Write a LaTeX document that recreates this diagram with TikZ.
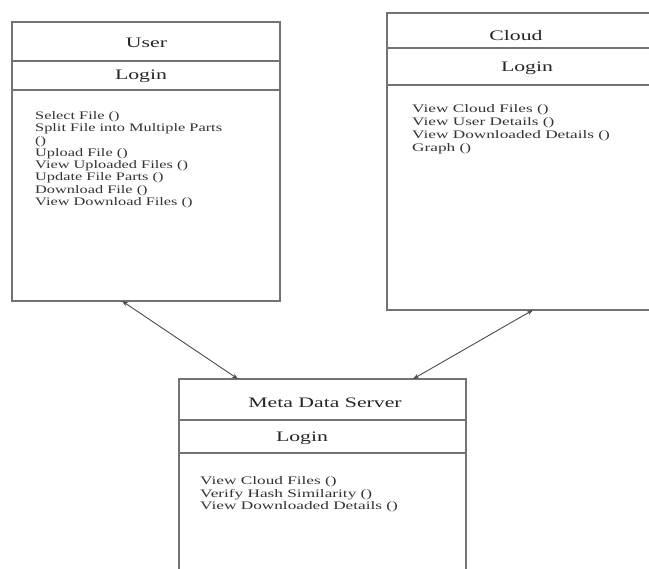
\documentclass[tikz,border=0pt]{standalone}
\usepackage{fontspec}
\setmainfont[FakeStretch=1.5]{Liberation Serif}
\newfontfamily\usermethodfont[FakeStretch=1.42]{Liberation Serif}
\newfontfamily\methodfont[FakeStretch=1.5]{Liberation Serif}
\usetikzlibrary{arrows.meta}
\begin{document}
\begin{tikzpicture}[x=1pt,y=-1pt,
  umlbox/.style={draw=black!55, line width=1.1pt, fill=none, inner sep=0pt, outer sep=0pt},
  divider/.style={draw=black!55, line width=1.1pt},
  titletext/.style={font=\fontsize{14.5}{16}\selectfont, text=black!85, inner sep=0pt},
  methodtext/.style={font=\methodfont\fontsize{11.5}{12}\selectfont, text=black!80, inner sep=0pt, anchor=base west},
  usermethodtext/.style={methodtext, font=\usermethodfont\fontsize{11.5}{12}\selectfont},
  link/.style={draw=black!70, line width=0.9pt, {Stealth[length=6pt,width=4.5pt]}-{Stealth[length=6pt,width=4.5pt]}}]
\clip (0,0) rectangle (649,569);
\fill[white] (0,0) rectangle (649,569);

% boxes
\node[umlbox, minimum width=268pt, minimum height=279pt] (user) at (146,161.5) {};
\node[umlbox, minimum width=265pt, minimum height=297pt] (cloud) at (519.5,161.5) {};
\node[umlbox, minimum width=287pt, minimum height=230pt] (meta) at (322.5,494) {};

% dividers
\draw[divider] (user.west |- 0,61) -- (user.east |- 0,61);
\draw[divider] (user.west |- 0,90) -- (user.east |- 0,90);
\draw[divider] (cloud.west |- 0,48) -- (cloud.east |- 0,48);
\draw[divider] (cloud.west |- 0,85) -- (cloud.east |- 0,85);
\draw[divider] (meta.west |- 0,420) -- (meta.east |- 0,420);
\draw[divider] (meta.west |- 0,453) -- (meta.east |- 0,453);

% titles
\node[titletext] (usertitle) at (146.5,43) {User};
\node[titletext] (userlogin) at (141,76) {Login};
\node[titletext] (cloudtitle) at (516,36) {Cloud};
\node[titletext] (cloudlogin) at (527,68) {Login};
\node[titletext] (metatitle) at (325,403) {Meta Data Server};
\node[titletext] (metalogin) at (302,438) {Login};

% methods
\foreach \t [count=\i] in {Select File (), Split File into Multiple Parts, (), Upload File (), View Uploaded Files (), Update File Parts (), Download File (), View Download Files ()}
  \node[usermethodtext, name=um\i] at (35,{119.5+(\i-1)*12.3}) {\t};
\foreach \t [count=\i] in {View Cloud Files (), View User Details (), View Downloaded Details (), Graph ()}
  \node[methodtext, name=cm\i] at (412,{113+(\i-1)*12.7}) {\t};
\foreach \t [count=\i] in {View Cloud Files (), Verify Hash Similarity (), View Downloaded Details ()}
  \node[methodtext, name=mm\i] at (200,{485+(\i-1)*12.5}) {\t};

% connectors
\coordinate (ua) at (user.south -| 122,0);
\coordinate (ma) at (meta.north -| 238,0);
\coordinate (ca) at (cloud.south -| 533,0);
\coordinate (mb) at (meta.north -| 413,0);
\draw[link] (ua) -- (ma);
\draw[link] (ca) -- (mb);
\end{tikzpicture}
\end{document}
